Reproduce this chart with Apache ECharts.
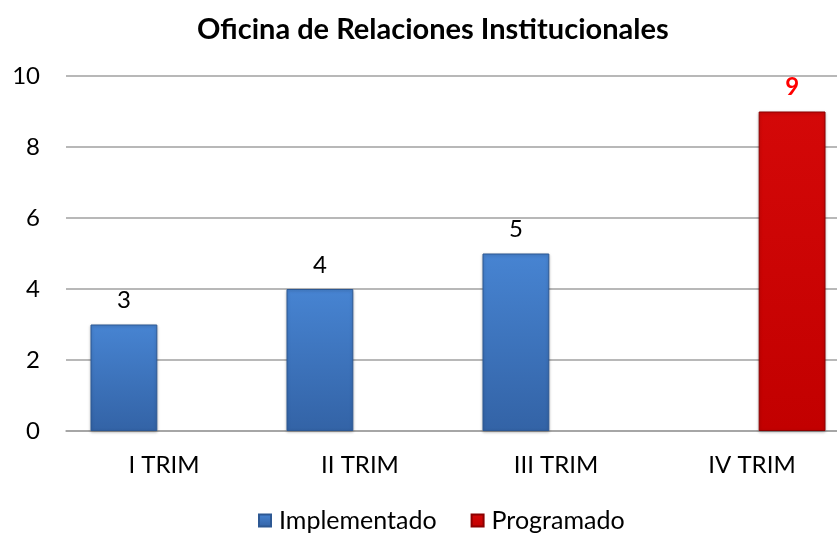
<!DOCTYPE html>
<html>
<head>
<meta charset="utf-8">
<script src="https://cdn.jsdelivr.net/npm/echarts@6/dist/echarts.min.js"></script>
<style>
  html, body { margin: 0; padding: 0; background: #fff; }
  #chart { width: 837px; height: 535px; }
</style>
</head>
<body>
<div id="chart"></div>
<script>
  // datos del gráfico
  var trimestres = ['I TRIM', 'II TRIM', 'III TRIM', 'IV TRIM'];
  var implementado = [3, 4, 5, null];
  var programado = [null, null, null, 9];
  var yTicks = [0, 2, 4, 6, 8, 10];

  var font = 'Lato, "Open Sans", sans-serif';

  function shade(top, bottom) {
    return new echarts.graphic.LinearGradient(0, 0, 0, 1, [
      { offset: 0, color: top },
      { offset: 1, color: bottom }
    ]);
  }

  var chart = echarts.init(document.getElementById('chart'));
  chart.setOption({
    animation: false,
    title: {
      text: 'Oficina de Relaciones Institucionales',
      left: 192,
      top: 10,
      textStyle: { fontFamily: font, fontSize: 29, fontWeight: 'bold', color: '#000' }
    },
    legend: {
      bottom: -3,
      left: 253,
      itemWidth: 12,
      itemHeight: 12,
      itemGap: 34,
      icon: 'rect',
      textStyle: { fontFamily: font, fontSize: 25, color: '#000', padding: [0, 0, 0, 3] },
      data: ['Implementado', 'Programado']
    },
    grid: { left: 66, right: -13, top: 76, bottom: 104, outerBoundsMode: 'none' },
    xAxis: {
      type: 'category',
      data: trimestres,
      axisTick: { show: false },
      axisLine: { lineStyle: { color: '#a0a0a0', width: 1.5 } },
      axisLabel: { fontFamily: font, fontSize: 24, color: '#000', margin: 22 }
    },
    yAxis: {
      type: 'value',
      min: yTicks[0],
      max: yTicks[yTicks.length - 1],
      interval: 2,
      axisLine: { show: false },
      axisTick: { show: false },
      splitLine: { lineStyle: { color: '#a0a0a0', width: 1.5 } },
      axisLabel: { fontFamily: font, fontSize: 24, color: '#000', margin: 26 }
    },
    series: [
      {
        name: 'Implementado',
        type: 'bar',
        data: implementado,
        barGap: '20%',
        barCategoryGap: '25%',
        itemStyle: {
          color: shade('#4784d2', '#3363a6'),
          borderColor: '#2d5893',
          borderWidth: 1,
          shadowColor: 'rgba(0,0,0,0.25)',
          shadowBlur: 3,
          shadowOffsetY: 1
        },
        label: {
          show: true,
          position: 'top',
          distance: 12,
          fontFamily: font,
          fontSize: 24,
          color: '#000'
        }
      },
      {
        name: 'Programado',
        type: 'bar',
        data: programado,
        itemStyle: {
          color: shade('#d40808', '#c20000'),
          borderColor: '#8c0000',
          borderWidth: 1,
          shadowColor: 'rgba(0,0,0,0.25)',
          shadowBlur: 3,
          shadowOffsetY: 1
        },
        label: {
          show: true,
          position: 'top',
          distance: 12,
          fontFamily: font,
          fontSize: 24,
          fontWeight: 'bold',
          color: '#ff0000'
        }
      }
    ]
  });
</script>
</body>
</html>
